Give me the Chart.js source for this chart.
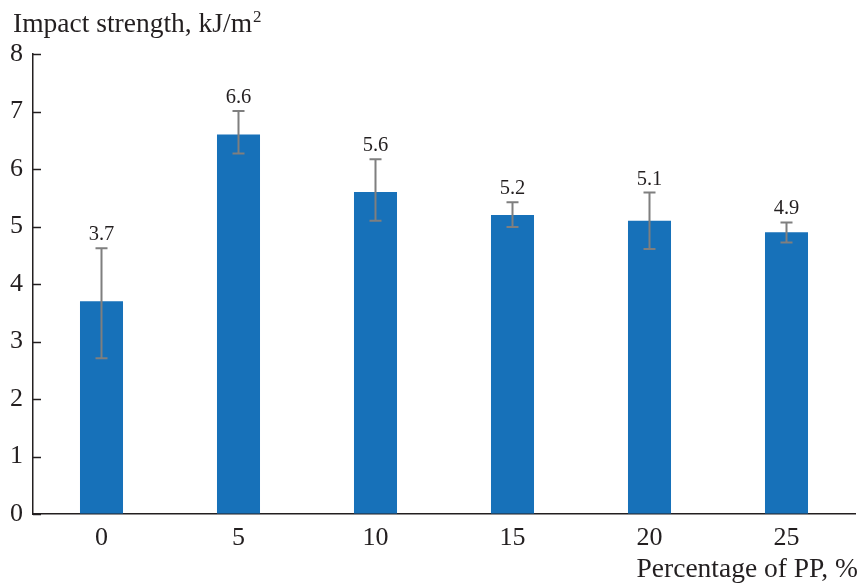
<!DOCTYPE html>
<html>
<head>
<meta charset="utf-8">
<script src="https://cdn.jsdelivr.net/npm/chart.js@4/dist/chart.umd.min.js"></script>
<style>
  html, body { margin: 0; padding: 0; background: #fff; }
  #wrap { width: 861px; height: 584px; position: relative; }
</style>
</head>
<body>
<div id="wrap"><canvas id="c" width="861" height="584"></canvas></div>
<script>
// Impact strength vs. PP content, mean values with error ranges
const categories = ['0', '5', '10', '15', '20', '25'];
const strength = [3.7, 6.6, 5.6, 5.2, 5.1, 4.9];
const errLow  = [2.71, 6.27, 5.10, 4.99, 4.61, 4.72];
const errHigh = [4.62, 7.01, 6.17, 5.42, 5.59, 5.07];
const yTicks = [0, 1, 2, 3, 4, 5, 6, 7, 8];

const SERIF = '"Liberation Serif", "Times New Roman", serif';
const INK = '#231f20';

// error bars, inward y ticks, value labels and axis titles
const decorations = {
  id: 'decorations',
  afterDatasetsDraw(chart) {
    const { ctx, chartArea, scales } = chart;
    const y = scales.y;
    const meta = chart.getDatasetMeta(0);
    ctx.save();

    // inward tick marks on the value axis
    ctx.strokeStyle = INK;
    ctx.lineWidth = 1.5;
    yTicks.forEach(v => {
      const py = Math.round(y.getPixelForValue(v)) + 0.5;
      ctx.beginPath();
      ctx.moveTo(chartArea.left, py);
      ctx.lineTo(chartArea.left + 8, py);
      ctx.stroke();
    });

    // error bars
    ctx.strokeStyle = '#7f7f7f';
    ctx.lineWidth = 2;
    meta.data.forEach((bar, i) => {
      const x = bar.x;
      const yt = y.getPixelForValue(errHigh[i]);
      const yb = y.getPixelForValue(errLow[i]);
      ctx.beginPath();
      ctx.moveTo(x, yt); ctx.lineTo(x, yb);
      ctx.moveTo(x - 6, yt); ctx.lineTo(x + 6, yt);
      ctx.moveTo(x - 6, yb); ctx.lineTo(x + 6, yb);
      ctx.stroke();
    });

    // value labels above the error bars
    ctx.fillStyle = INK;
    ctx.font = '20.5px ' + SERIF;
    ctx.textAlign = 'center';
    ctx.textBaseline = 'alphabetic';
    meta.data.forEach((bar, i) => {
      const yt = y.getPixelForValue(errHigh[i]);
      ctx.fillText(strength[i].toFixed(1), bar.x, yt - 8);
    });

    // y-axis title with superscript
    ctx.textAlign = 'left';
    ctx.font = '27.5px ' + SERIF;
    const t = 'Impact strength, kJ/m';
    ctx.fillText(t, 13, 32);
    const w = ctx.measureText(t).width;
    ctx.font = '17px ' + SERIF;
    ctx.fillText('2', 13 + w + 1, 22);

    // x-axis title, right aligned
    ctx.font = '27.5px ' + SERIF;
    ctx.textAlign = 'right';
    ctx.fillText('Percentage of PP, %', 858, 577);

    ctx.restore();
  }
};

new Chart(document.getElementById('c'), {
  type: 'bar',
  data: {
    labels: categories,
    datasets: [{
      data: strength,
      backgroundColor: '#1771b9',
      borderWidth: 0,
      barPercentage: 0.314,
      categoryPercentage: 1.0
    }]
  },
  options: {
    responsive: false,
    animation: false,
    devicePixelRatio: 1,
    layout: { padding: { top: 54, right: 6, left: 0, bottom: 0 } },
    plugins: {
      legend: { display: false },
      tooltip: { enabled: false }
    },
    scales: {
      x: {
        offset: true,
        grid: { display: true, drawOnChartArea: false, drawTicks: false },
        border: { display: true, color: INK, width: 1.5 },
        ticks: { color: INK, font: { family: SERIF, size: 26 }, padding: 9, maxRotation: 0 },
        afterFit(scale) { scale.height = 70; }
      },
      y: {
        min: 0,
        max: 8,
        grid: { display: true, drawOnChartArea: false, drawTicks: false },
        border: { display: true, color: INK, width: 1.5 },
        ticks: { stepSize: 1, color: INK, font: { family: SERIF, size: 26 }, padding: 10 },
        afterFit(scale) { scale.width = 33; }
      }
    }
  },
  plugins: [decorations]
});
</script>
</body>
</html>
